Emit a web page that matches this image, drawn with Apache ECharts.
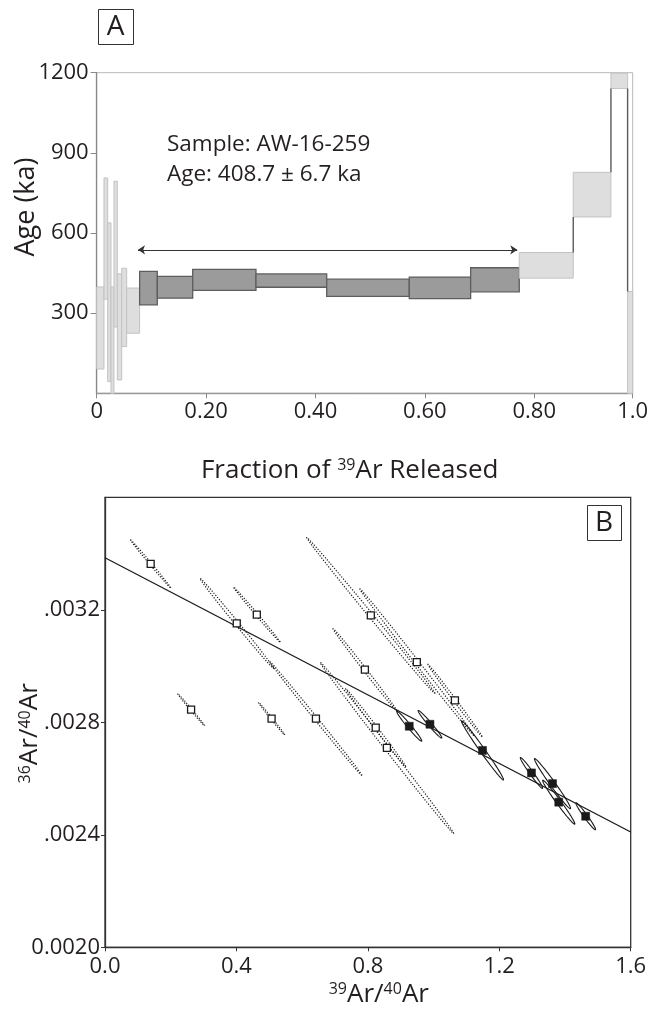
<!DOCTYPE html>
<html><head><meta charset="utf-8">
<script src="https://cdn.jsdelivr.net/npm/echarts@6/dist/echarts.min.js"></script>
<style>html,body{margin:0;padding:0;background:#fff}#c{width:659px;height:1013px}</style>
</head><body><div id="c"></div>
<script>
// ---------- Panel A: age spectrum ----------
const stepEdges = [0, 0.0133, 0.0201, 0.0261, 0.0316, 0.0377, 0.0457, 0.0548, 0.0785, 0.1108, 0.1755, 0.2912, 0.4205, 0.5715, 0.6837, 0.7726, 0.8713, 0.9402, 0.9707, 0.98];
const ageLow  = [91, 352, 44, 0, 248, 50, 175, 225, 331, 356, 385, 397, 363, 354, 380, 431, 660, 1141, 0];
const ageHigh = [398, 806, 638, 398, 794, 447, 468, 394, 456, 438, 464, 447, 427, 435, 470, 527, 827, 1198, 381];
const inPlateau = [0, 0, 0, 0, 0, 0, 0, 0, 1, 1, 1, 1, 1, 1, 1, 0, 0, 0, 0];
const plateauSpan = [0.0755, 0.769];
const plateauArrowAge = 537;
const xTickLabelsA = ['0', '0.20', '0.40', '0.60', '0.80', '1.0'];
const sampleText = ['Sample: AW-16-259', 'Age: 408.7 \u00b1 6.7 ka'];

// ---------- Panel B: inverse isochron ----------
const openX   = [0.139, 0.401, 0.462, 0.262, 0.507, 0.642, 0.809, 0.791, 0.949, 1.065, 0.824, 0.858];
const openY   = [0.003363, 0.003152, 0.003183, 0.002845, 0.002813, 0.002813, 0.003180, 0.002987, 0.003014, 0.002878, 0.002781, 0.002709];
const openSx  = [0.061, 0.112, 0.071, 0.041, 0.040, 0.140, 0.195, 0.097, 0.173, 0.082, 0.091, 0.203];
const openSy  = [8.5e-5, 1.60e-4, 9.8e-5, 5.7e-5, 5.8e-5, 2.02e-4, 2.77e-4, 1.46e-4, 2.60e-4, 1.28e-4, 1.38e-4, 3.04e-4];
const openRho = [-0.998, -0.998, -0.998, -0.997, -0.997, -0.999, -0.999, -0.998, -0.999, -0.998, -0.998, -0.999];

const platX   = [0.926, 0.989, 1.149, 1.298, 1.362, 1.381, 1.463];
const platY   = [0.002786, 0.002793, 0.002700, 0.002620, 0.002582, 0.002516, 0.002466];
const platSx  = [0.038, 0.036, 0.064, 0.034, 0.055, 0.049, 0.030];
const platSy  = [5.3e-5, 4.9e-5, 1.05e-4, 5.5e-5, 8.9e-5, 7.8e-5, 4.8e-5];
const platRho = [-0.98, -0.98, -0.99, -0.98, -0.985, -0.985, -0.975];

const isoLineX = [0, 1.6];
const isoLineY = [0.003385, 0.00241];

// ---------- build ----------
const FONT = '"Open Sans", "Noto Sans", sans-serif';
const TXT = '#231f20';

const boxData = [];
for (let i = 0; i < ageLow.length; i++) boxData.push([stepEdges[i], stepEdges[i + 1], ageLow[i], ageHigh[i], inPlateau[i]]);
const connData = [];
for (let i = 0; i < ageLow.length - 1; i++) {
  if (ageHigh[i] < ageLow[i + 1]) connData.push([stepEdges[i + 1], ageHigh[i], ageLow[i + 1]]);
  else if (ageLow[i] > ageHigh[i + 1]) connData.push([stepEdges[i + 1], ageLow[i], ageHigh[i + 1]]);
}
const openData = openX.map((x, i) => [x, openY[i], openSx[i], openSy[i], openRho[i]]);
const platData = platX.map((x, i) => [x, platY[i], platSx[i], platSy[i], platRho[i]]);

function ellipseRender(dotted) {
  return function (params, api) {
    const cx = api.value(0), cy = api.value(1), sx = api.value(2), sy = api.value(3), r = api.value(4);
    const q = Math.sqrt(1 - r * r);
    const pts = [];
    for (let k = 0; k <= 90; k++) {
      const t = k / 90 * 2 * Math.PI;
      pts.push(api.coord([cx + sx * Math.cos(t), cy + sy * (r * Math.cos(t) + q * Math.sin(t))]));
    }
    return {
      type: 'polygon', shape: { points: pts },
      style: { fill: 'none', stroke: '#1a1a1a', lineWidth: dotted ? 1.2 : 1.1, lineDash: dotted ? [1.2, 1.6] : null }
    };
  };
}

const chart = echarts.init(document.getElementById('c'), null, { renderer: 'canvas' });
const supRich = { sup: { fontSize: 16, fontFamily: FONT, color: TXT, verticalAlign: 'top', lineHeight: 18 } };

chart.setOption({
  animation: false,
  backgroundColor: '#fff',
  textStyle: { fontFamily: FONT, color: TXT },
  grid: [
    { left: 96.7, top: 72.7, width: 536, height: 320.6, show: true, borderColor: '#b8b8b8', borderWidth: 1, containLabel: false, outerBoundsMode: 'none' },
    { left: 105, top: 497.3, width: 525.7, height: 450, show: true, borderColor: '#333', borderWidth: 1.3, containLabel: false, outerBoundsMode: 'none' }
  ],
  xAxis: [
    {
      gridIndex: 0, type: 'value', min: 0, max: 0.98, interval: 0.2,
      axisLine: { lineStyle: { color: '#9a9a9a', width: 1.3 } },
      axisTick: { length: 5, lineStyle: { color: '#8a8a8a' } },
      splitLine: { show: false },
      axisLabel: {
        fontSize: 22, color: TXT, fontFamily: FONT, margin: 7, showMaxLabel: true, hideOverlap: false,
        formatter: function (v) { return xTickLabelsA[Math.round(v / 0.2)]; }
      },
      name: 'Fraction of {sup|39}Ar Released', nameLocation: 'middle', nameGap: 64, nameMoveOverlap: false,
      nameTextStyle: { fontSize: 26, color: TXT, fontFamily: FONT, padding: [0, 30, 0, 0], rich: supRich }
    },
    {
      gridIndex: 1, type: 'value', min: 0, max: 1.6, interval: 0.4,
      axisLine: { lineStyle: { color: '#333', width: 1.3 } },
      axisTick: { length: 4, lineStyle: { color: '#333' } },
      splitLine: { show: false },
      axisLabel: { fontSize: 22, color: TXT, fontFamily: FONT, margin: 8, formatter: v => v.toFixed(1) },
      name: '{sup|39}Ar/{sup|40}Ar', nameLocation: 'middle', nameGap: 34, nameMoveOverlap: false,
      nameTextStyle: { fontSize: 26, color: TXT, fontFamily: FONT, padding: [0, 0, 0, 22], rich: supRich }
    }
  ],
  yAxis: [
    {
      gridIndex: 0, type: 'value', min: 0, max: 1200, interval: 300,
      axisLine: { show: true, lineStyle: { color: '#888', width: 1.3 } },
      axisTick: { show: true, length: 6, lineStyle: { color: '#888' } },
      splitLine: { show: false },
      axisLabel: { fontSize: 22, color: TXT, fontFamily: FONT, margin: 8, showMinLabel: false, formatter: v => (v === 0 ? '' : String(v)) },
      name: 'Age (ka)', nameLocation: 'middle', nameGap: 57, nameMoveOverlap: false,
      nameTextStyle: { fontSize: 27, color: TXT, fontFamily: FONT, padding: [0, 0, 0, 52] }
    },
    {
      gridIndex: 1, type: 'value', min: 0.0020, max: 0.0036, interval: 0.0004,
      axisLine: { show: true, lineStyle: { color: '#333', width: 1.3 } },
      axisTick: { show: true, length: 4, lineStyle: { color: '#333' } },
      splitLine: { show: false },
      axisLabel: {
        fontSize: 22, color: TXT, fontFamily: FONT, margin: 5, showMaxLabel: false,
        formatter: v => (Math.abs(v - 0.002) < 1e-9 ? '0.0020' : v.toFixed(4).replace(/^0/, ''))
      },
      name: '{sup|36}Ar/{sup|40}Ar', nameLocation: 'middle', nameGap: 62, nameMoveOverlap: false,
      nameTextStyle: { fontSize: 26, color: TXT, fontFamily: FONT, padding: [0, 22, 0, 0], rich: supRich }
    }
  ],
  graphic: [
    { type: 'rect', left: 98, top: 9, shape: { width: 35, height: 35 }, style: { fill: '#fff', stroke: '#333', lineWidth: 1 }, z: 10 },
    { type: 'text', x: 115.5, y: 27, style: { text: 'A', font: '28px ' + FONT, fill: TXT, align: 'center', verticalAlign: 'middle' }, z: 11 },
    { type: 'rect', left: 587, top: 505, shape: { width: 34, height: 35 }, style: { fill: '#fff', stroke: '#333', lineWidth: 1 }, z: 10 },
    { type: 'text', x: 604, y: 523, style: { text: 'B', font: '28px ' + FONT, fill: TXT, align: 'center', verticalAlign: 'middle' }, z: 11 },
    { type: 'text', x: 167, y: 130, style: { text: sampleText.join('\n'), font: '22.5px ' + FONT, fill: TXT, lineHeight: 30, align: 'left', verticalAlign: 'top' }, z: 11 }
  ],
  series: [
    {
      type: 'custom', name: 'steps', xAxisIndex: 0, yAxisIndex: 0, data: boxData,
      renderItem: function (params, api) {
        const p0 = api.coord([api.value(0), api.value(3)]);
        const p1 = api.coord([api.value(1), api.value(2)]);
        const pl = api.value(4) === 1;
        return {
          type: 'rect', shape: { x: p0[0], y: p0[1], width: p1[0] - p0[0], height: p1[1] - p0[1] },
          style: { fill: pl ? '#9b9b9b' : '#dedede', stroke: pl ? '#5e5e5e' : '#c3c3c3', lineWidth: pl ? 1.3 : 1 }
        };
      },
      markLine: {
        silent: true, symbol: ['arrow', 'arrow'], symbolSize: 7,
        label: { show: false },
        lineStyle: { color: '#333', width: 1, type: 'solid' },
        data: [[{ coord: [plateauSpan[0], plateauArrowAge] }, { coord: [plateauSpan[1], plateauArrowAge] }]]
      }
    },
    {
      type: 'custom', name: 'connectors', xAxisIndex: 0, yAxisIndex: 0, data: connData,
      renderItem: function (params, api) {
        const a = api.coord([api.value(0), api.value(1)]);
        const b = api.coord([api.value(0), api.value(2)]);
        return { type: 'line', shape: { x1: a[0], y1: a[1], x2: b[0], y2: b[1] }, style: { stroke: '#5a5a5a', lineWidth: 1.4 } };
      }
    },
    {
      type: 'custom', name: 'openEllipses', xAxisIndex: 1, yAxisIndex: 1, data: openData,
      renderItem: ellipseRender(true)
    },
    {
      type: 'custom', name: 'plateauEllipses', xAxisIndex: 1, yAxisIndex: 1, data: platData,
      renderItem: ellipseRender(false)
    },
    {
      type: 'line', name: 'isochron', xAxisIndex: 1, yAxisIndex: 1,
      data: isoLineX.map((x, i) => [x, isoLineY[i]]),
      showSymbol: false, symbol: 'none', lineStyle: { color: '#1a1a1a', width: 1.3 }, z: 3
    },
    {
      type: 'scatter', name: 'excluded', xAxisIndex: 1, yAxisIndex: 1,
      data: openX.map((x, i) => [x, openY[i]]),
      symbol: 'rect', symbolSize: 7, itemStyle: { color: '#fff', borderColor: '#1a1a1a', borderWidth: 1.3, opacity: 1 }, z: 5
    },
    {
      type: 'scatter', name: 'plateau', xAxisIndex: 1, yAxisIndex: 1,
      data: platX.map((x, i) => [x, platY[i]]),
      symbol: 'rect', symbolSize: 8, itemStyle: { color: '#1a1a1a', borderColor: '#1a1a1a', borderWidth: 0.5, opacity: 1 }, z: 5
    }
  ]
});
</script>
</body></html>
